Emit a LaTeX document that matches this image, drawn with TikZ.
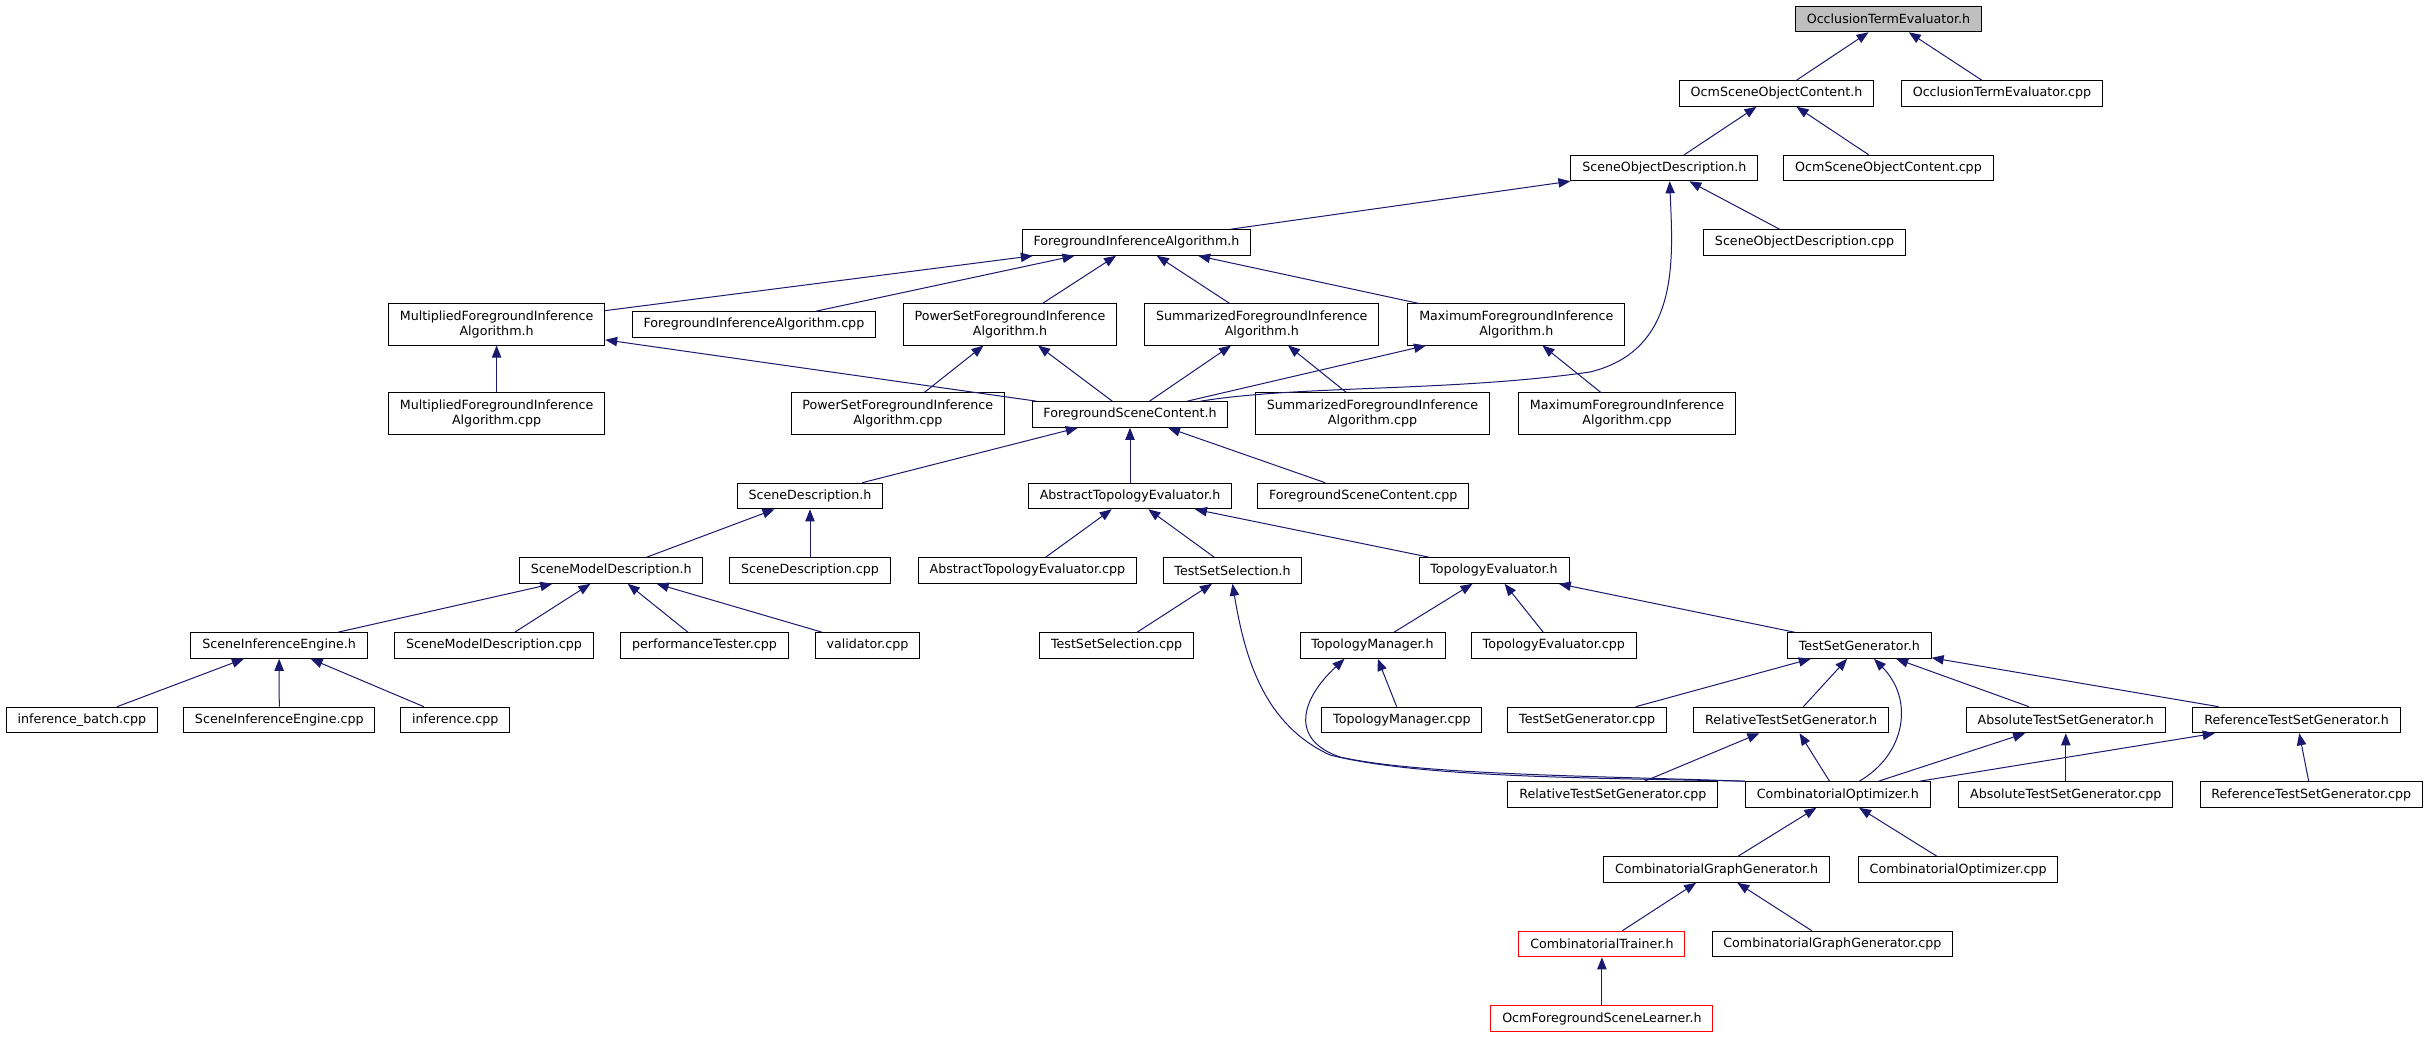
\documentclass[tikz,border=0pt]{standalone}
\usepackage{fontspec}
\setmainfont{DejaVu Sans}
\usetikzlibrary{arrows.meta}
\definecolor{navy}{HTML}{191970}
\definecolor{gray75}{HTML}{BFBFBF}

\begin{document}
\begin{tikzpicture}[x=0.75pt,y=-0.75pt,
    file/.style={draw=black,line width=0.75pt,fill=white,inner xsep=8.5pt,inner ysep=0pt,
        minimum height=19.2pt,font=\fontsize{9.5}{11.6}\selectfont},
    twoline/.style={file,align=center,minimum height=30.8pt},
    root/.style={file,fill=gray75},
    trunc/.style={file,draw=red},
    incl/.style={draw=navy,line width=0.75pt,{Triangle[length=9pt,width=7pt]}-}]
        \path[use as bounding box,fill=white] (0,0) rectangle (2429,1037);

        \node[root] (ote) at (1888.5,19) {OcclusionTermEvaluator.h};
        \node[file] (ocmsoc) at (1776.5,93.5) {OcmSceneObjectContent.h};
        \node[file] (otecpp) at (2002,93.5) {OcclusionTermEvaluator.cpp};
        \node[file] (sod) at (1664.3,168) {SceneObjectDescription.h};
        \node[file] (ocmsoccpp) at (1888.5,168) {OcmSceneObjectContent.cpp};
        \node[file] (fia) at (1136.5,242.5) {ForegroundInferenceAlgorithm.h};
        \node[file] (sodcpp) at (1804.5,242.5) {SceneObjectDescription.cpp};
        \node[twoline] (mfia) at (496.6,324.5) {MultipliedForegroundInference\\Algorithm.h};
        \node[file] (fiacpp) at (753.9,324.5) {ForegroundInferenceAlgorithm.cpp};
        \node[twoline] (psfia) at (1010,324.5) {PowerSetForegroundInference\\Algorithm.h};
        \node[twoline] (sfia) at (1261.8,324.5) {SummarizedForegroundInference\\Algorithm.h};
        \node[twoline] (xfia) at (1516.3,324.5) {MaximumForegroundInference\\Algorithm.h};
        \node[twoline] (mfiacpp) at (496.6,413.5) {MultipliedForegroundInference\\Algorithm.cpp};
        \node[twoline] (psfiacpp) at (897.8,413.5) {PowerSetForegroundInference\\Algorithm.cpp};
        \node[file] (fsc) at (1130,414.5) {ForegroundSceneContent.h};
        \node[twoline] (sfiacpp) at (1372.5,413.5) {SummarizedForegroundInference\\Algorithm.cpp};
        \node[twoline] (xfiacpp) at (1627,413.5) {MaximumForegroundInference\\Algorithm.cpp};
        \node[file] (sd) at (810,496) {SceneDescription.h};
        \node[file] (ate) at (1130,496) {AbstractTopologyEvaluator.h};
        \node[file] (fsccpp) at (1363.2,496) {ForegroundSceneContent.cpp};
        \node[file] (smd) at (611.2,570.5) {SceneModelDescription.h};
        \node[file] (sdcpp) at (810,570.5) {SceneDescription.cpp};
        \node[file] (atecpp) at (1027.4,570.5) {AbstractTopologyEvaluator.cpp};
        \node[file] (tss) at (1232.5,570.5) {TestSetSelection.h};
        \node[file] (te) at (1494,570.5) {TopologyEvaluator.h};
        \node[file] (sie) at (279.1,645.5) {SceneInferenceEngine.h};
        \node[file] (smdcpp) at (494,645.5) {SceneModelDescription.cpp};
        \node[file] (perf) at (704.5,645.5) {performanceTester.cpp};
        \node[file] (valid) at (867.5,645.5) {validator.cpp};
        \node[file] (tsscpp) at (1116.6,645.5) {TestSetSelection.cpp};
        \node[file] (tm) at (1372.5,645.5) {TopologyManager.h};
        \node[file] (tecpp) at (1553.8,645.5) {TopologyEvaluator.cpp};
        \node[file] (tsg) at (1859.3,645.5) {TestSetGenerator.h};
        \node[file] (batch) at (81.9,720) {inference\_batch.cpp};
        \node[file] (siecpp) at (279.3,720) {SceneInferenceEngine.cpp};
        \node[file] (infer) at (455.3,720) {inference.cpp};
        \node[file] (tmcpp) at (1401.9,720) {TopologyManager.cpp};
        \node[file] (tsgcpp) at (1587.2,720) {TestSetGenerator.cpp};
        \node[file] (rtsg) at (1791.2,720) {RelativeTestSetGenerator.h};
        \node[file] (atsg) at (2065.8,720) {AbsoluteTestSetGenerator.h};
        \node[file] (reftsg) at (2296.6,720) {ReferenceTestSetGenerator.h};
        \node[file] (rtsgcpp) at (1612.8,794.5) {RelativeTestSetGenerator.cpp};
        \node[file] (co) at (1837.8,794.5) {CombinatorialOptimizer.h};
        \node[file] (atsgcpp) at (2065.8,794.5) {AbsoluteTestSetGenerator.cpp};
        \node[file] (reftsgcpp) at (2311.3,794.5) {ReferenceTestSetGenerator.cpp};
        \node[file] (cgg) at (1716.6,869.5) {CombinatorialGraphGenerator.h};
        \node[file] (cocpp) at (1958.1,869.5) {CombinatorialOptimizer.cpp};
        \node[trunc] (ct) at (1601.9,944) {CombinatorialTrainer.h};
        \node[file] (cggcpp) at (1832.4,944) {CombinatorialGraphGenerator.cpp};
        \node[trunc] (ofsl) at (1601.9,1018.5) {OcmForegroundSceneLearner.h};

        \path[incl] (ote) -- (ocmsoc);
        \path[incl] (ote) -- (otecpp);
        \path[incl] (ocmsoc) -- (sod);
        \path[incl] (ocmsoc) -- (ocmsoccpp);
        \path[incl] (sod) -- (fia);
        \path[incl] (sod) -- (sodcpp);
        \path[incl] ([xshift=4pt]sod.south) .. controls (1673,260) and (1680,350) .. (1590,372)
            .. controls (1450,392) and (1300,385) .. ([xshift=-21pt]fsc.north east);
        \path[incl] (fia) -- (mfia);
        \path[incl] (fia) -- (fiacpp);
        \path[incl] (fia) -- (psfia);
        \path[incl] (fia) -- (sfia);
        \path[incl] (fia) -- (xfia);
        \path[incl] (mfia) -- (mfiacpp);
        \path[incl] (mfia) -- (fsc);
        \path[incl] (psfia) -- (psfiacpp);
        \path[incl] (psfia) -- (fsc);
        \path[incl] (sfia) -- (fsc);
        \path[incl] (sfia) -- (sfiacpp);
        \path[incl] (xfia) -- (fsc);
        \path[incl] (xfia) -- (xfiacpp);
        \path[incl] (fsc) -- (sd);
        \path[incl] (fsc) -- (ate);
        \path[incl] (fsc) -- (fsccpp);
        \path[incl] (sd) -- (smd);
        \path[incl] (sd) -- (sdcpp);
        \path[incl] (ate) -- (atecpp);
        \path[incl] (ate) -- (tss);
        \path[incl] (ate) -- (te);
        \path[incl] (smd) -- (sie);
        \path[incl] (smd) -- (smdcpp);
        \path[incl] (smd) -- (perf);
        \path[incl] (smd) -- (valid);
        \path[incl] (tss) -- (tsscpp);
        \path[incl] (tss.south) .. controls (1245,660) and (1265,725) .. (1330,755)
            .. controls (1420,778) and (1600,778) .. (co.north west);
        \path[incl] (te) -- (tm);
        \path[incl] (te) -- (tecpp);
        \path[incl] (te) -- (tsg);
        \path[incl] (sie) -- (batch);
        \path[incl] (sie) -- (siecpp);
        \path[incl] (sie) -- (infer);
        \path[incl] (tm) -- (tmcpp);
        \path[incl] ([xshift=-21pt]tm.south) .. controls (1300,700) and (1290,740) .. (1340,757)
            .. controls (1420,775) and (1600,776) .. (co.north west);
        \path[incl] (tsg) -- (tsgcpp);
        \path[incl] (tsg) -- (rtsg);
        \path[incl] ([xshift=11pt]tsg.south) .. controls (1915,700) and (1905,755) .. ([xshift=16pt]co.north);
        \path[incl] (tsg) -- (atsg);
        \path[incl] (tsg) -- (reftsg);
        \path[incl] (rtsg) -- (rtsgcpp);
        \path[incl] (rtsg) -- (co);
        \path[incl] (atsg) -- (co);
        \path[incl] (atsg) -- (atsgcpp);
        \path[incl] (reftsg) -- (co);
        \path[incl] (reftsg) -- (reftsgcpp);
        \path[incl] (co) -- (cgg);
        \path[incl] (co) -- (cocpp);
        \path[incl] (cgg) -- (ct);
        \path[incl] (cgg) -- (cggcpp);
        \path[incl] (ct) -- (ofsl);
    \end{tikzpicture}
\end{document}
